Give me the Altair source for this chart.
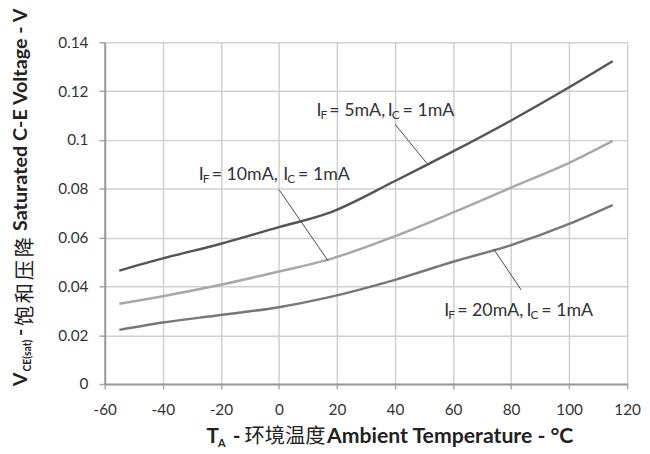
import altair as alt
import pandas as pd

# ---------------- data ----------------
temps = [-55, -40, -20, 0, 17, 40, 60, 80, 100, 115]
v_5ma = [0.0465, 0.0515, 0.0575, 0.0643, 0.0700, 0.0832, 0.0953, 0.1080, 0.1216, 0.1323]
v_10ma = [0.0329, 0.0360, 0.0407, 0.0461, 0.0510, 0.0606, 0.0703, 0.0805, 0.0906, 0.0996]
v_20ma = [0.0222, 0.0252, 0.0283, 0.0315, 0.0355, 0.0427, 0.0501, 0.0569, 0.0656, 0.0733]
series_names = ["IF=5mA", "IF=10mA", "IF=20mA"]
series_colors = ["#555555", "#a8a8a8", "#777777"]

x_ticks = [-60, -40, -20, 0, 20, 40, 60, 80, 100, 120]
y_ticks = [0, 0.02, 0.04, 0.06, 0.08, 0.1, 0.12, 0.14]

# annotation labels (anchor in data units)
lab_if_text = ["= 5mA,", "= 10mA,", "= 20mA,"]
lab_ic_text = ["= 1mA", "= 1mA", "= 1mA"]
lab_if_x = [12.95, -27.6, 57.0]
lab_ic_x = [37.5, 1.5, 85.3]
lab_y = [0.1100, 0.0837, 0.0280]

# leader lines (data units)
lead_x = [40.0, 0.0, 74.0]
lead_y = [0.1065, 0.0797, 0.0553]
lead_x2 = [51.0, 17.0, 83.5]
lead_y2 = [0.0904, 0.0504, 0.0385]

# ---------------- tables ----------------
curves = pd.DataFrame({
    "T": temps * 3,
    "V": v_5ma + v_10ma + v_20ma,
    "series": [series_names[0]] * len(temps) + [series_names[1]] * len(temps) + [series_names[2]] * len(temps),
})
leaders = pd.DataFrame({"T": lead_x, "V": lead_y, "T2": lead_x2, "V2": lead_y2})
i_rows = pd.DataFrame({"T": lab_if_x + lab_ic_x, "V": lab_y + lab_y, "t": ["I"] * 6})
sub_rows = pd.DataFrame({"T": lab_if_x + lab_ic_x, "V": lab_y + lab_y, "t": ["F"] * 3 + ["C"] * 3})
rest_if_rows = pd.DataFrame({"T": lab_if_x, "V": lab_y, "t": lab_if_text})
rest_ic_rows = pd.DataFrame({"T": lab_ic_x, "V": lab_y, "t": lab_ic_text})

FONT = "Lato"
TXT = "#333333"
LBL = "replace(format(datum.value, '~g'), '\u2212', '-')"

X = alt.X("T:Q", scale=alt.Scale(domain=[-60, 120], nice=False, zero=False),
          axis=alt.Axis(values=x_ticks, title=None, tickSize=5, labelPadding=14,
                        labelFlush=False, labelOverlap=False, labelExpr=LBL))
Y = alt.Y("V:Q", scale=alt.Scale(domain=[0, 0.14], nice=False),
          axis=alt.Axis(values=y_ticks, title=None, tickSize=6,
                        labelPadding=11, labelOverlap=False, labelExpr=LBL))

lines = alt.Chart(curves).mark_line(strokeWidth=2.5, interpolate="monotone").encode(
    x=X, y=Y,
    color=alt.Color("series:N", scale=alt.Scale(domain=series_names, range=series_colors), legend=None),
)

rules = alt.Chart(leaders).mark_rule(color="#4a4a4a", strokeWidth=1).encode(
    x=X, y=Y, x2="T2:Q", y2="V2:Q")

t_i = alt.Chart(i_rows).mark_text(align="left", baseline="alphabetic", font=FONT,
                                   fontSize=18, color=TXT).encode(x=X, y=Y, text="t:N")
t_sub = alt.Chart(sub_rows).mark_text(align="left", baseline="alphabetic", font=FONT,
                                       fontSize=12, color=TXT, dx=4, dy=3).encode(x=X, y=Y, text="t:N")
t_rest_if = alt.Chart(rest_if_rows).mark_text(align="left", baseline="alphabetic", font=FONT,
                                              fontSize=18, color=TXT, dx=13).encode(x=X, y=Y, text="t:N")
t_rest_ic = alt.Chart(rest_ic_rows).mark_text(align="left", baseline="alphabetic", font=FONT,
                                              fontSize=18, color=TXT, dx=15).encode(x=X, y=Y, text="t:N")


def ptext(s, x, y, size, weight="bold", font=FONT, angle=0):
    return alt.Chart(pd.DataFrame({"t": [s]})).mark_text(
        align="left", baseline="alphabetic", font=font, fontSize=size,
        fontWeight=weight, color="#222222", angle=angle,
    ).encode(x=alt.value(x), y=alt.value(y), text="t:N")


CJK = "Noto Sans CJK SC"
# x-axis title (pixel positions relative to plot origin)
xt = [
    ptext("T", 103.0, 406, 21),
    ptext("A", 114.7, 410, 11),
    ptext("-", 129.5, 406, 21),
    ptext("环境温度", 141.5, 406, 20.5, weight="normal", font=CJK),
    ptext("Ambient Temperature - °C", 225, 406, 21.5),
]
# y-axis title (rotated)
yt = [
    ptext("V", -78.5, 348.3, 20, angle=270),
    ptext("CE(sat)", -75.2, 333.3, 10.5, angle=270),
    ptext("-", -78.5, 297.3, 20, angle=270),
]
for i, ch in enumerate("饱和压降"):
    yt.append(ptext(ch, -74.2, 287.3 - i * 23.2, 20.5, weight="normal", font=CJK, angle=270))
yt.append(ptext("Saturated C-E Voltage - V", -78.5, 191, 20, angle=270))

chart = alt.layer(lines, rules, t_i, t_sub, t_rest_if, t_rest_ic, *xt, *yt).properties(
    width=529, height=346,
    autosize=alt.AutoSizeParams(type="none"),
    padding={"left": 98, "top": 32, "right": 15, "bottom": 66},
).configure_view(stroke=None).configure_axis(
    grid=True, gridColor="#d0d0d0", gridWidth=1.5,
    domainColor="#999999", domainWidth=2,
    tickColor="#aaaaaa", tickWidth=1.5,
    labelFont=FONT, labelFontSize=15.5, labelColor=TXT,
)

chart.save("out.html", embed_options={"renderer": "svg", "actions": False})
